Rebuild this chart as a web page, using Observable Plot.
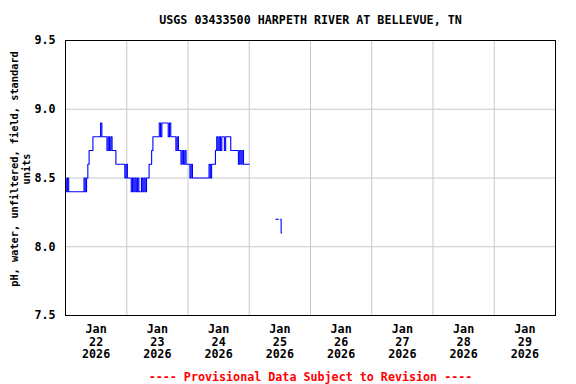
<!DOCTYPE html>
<html><head><meta charset="utf-8">
<script src="https://cdn.jsdelivr.net/npm/d3@7"></script>
<script src="https://cdn.jsdelivr.net/npm/@observablehq/plot@0.6"></script>
<style>body{margin:0;background:#fff} svg{display:block}</style>
</head><body><div id="chart"></div>
<script>
const title = "USGS 03433500 HARPETH RIVER AT BELLEVUE, TN";
const yLabel = "pH, water, unfiltered, field, standard\nunits";
const footer = "---- Provisional Data Subject to Revision ----";
const yTicks = [7.5, 8.0, 8.5, 9.0, 9.5];
const yGrid = [8.0, 8.5, 9.0];
const xDomain = ["2026-01-22T00:00Z", "2026-01-30T00:00Z"];
const gridDays = ["2026-01-23", "2026-01-24", "2026-01-25", "2026-01-26", "2026-01-27", "2026-01-28", "2026-01-29"];
const labelTimes = ["2026-01-22T12:00Z", "2026-01-23T12:00Z", "2026-01-24T12:00Z", "2026-01-25T12:00Z", "2026-01-26T12:00Z", "2026-01-27T12:00Z", "2026-01-28T12:00Z", "2026-01-29T12:00Z"];
const dayLabels = ["Jan\n22\n2026", "Jan\n23\n2026", "Jan\n24\n2026", "Jan\n25\n2026", "Jan\n26\n2026", "Jan\n27\n2026", "Jan\n28\n2026", "Jan\n29\n2026"];

// Segment 1: readings every 30 minutes from Jan 22 00:00
const seg1Start = "2026-01-22T00:00Z";
const seg1StepMinutes = 30;
const seg1Values = [
  8.5, 8.4, 8.5, 8.4,
  8.4, 8.4, 8.4, 8.4, 8.4, 8.4, 8.4, 8.4, 8.4, 8.4, 8.4,
  8.5, 8.4, 8.5, 8.6,
  8.7, 8.7, 8.7,
  8.8, 8.8, 8.8, 8.8, 8.8, 8.8,
  8.9,
  8.8, 8.8, 8.8, 8.8,
  8.7, 8.8, 8.7, 8.8, 8.7, 8.7, 8.7,
  8.6, 8.6, 8.6, 8.6, 8.6, 8.6, 8.6,
  8.5, 8.6, 8.5, 8.5, 8.5, 8.4, 8.5, 8.4, 8.5, 8.4, 8.5, 8.4, 8.4, 8.5, 8.4, 8.5, 8.4, 8.5, 8.5,
  8.6, 8.6, 8.7,
  8.8, 8.8, 8.8, 8.8, 8.8,
  8.9, 8.8,
  8.9, 8.9, 8.9, 8.9, 8.9,
  8.8, 8.9,
  8.8, 8.8, 8.8, 8.8,
  8.7, 8.8, 8.7, 8.7, 8.6, 8.7, 8.6, 8.7, 8.6, 8.6, 8.6, 8.5, 8.6, 8.5,
  8.5, 8.5, 8.5, 8.5, 8.5, 8.5, 8.5, 8.5, 8.5, 8.5, 8.5, 8.5,
  8.6, 8.5, 8.6, 8.6, 8.6, 8.7, 8.8, 8.7, 8.8, 8.7, 8.8, 8.8, 8.7,
  8.8, 8.8, 8.8, 8.8,
  8.7, 8.7, 8.7, 8.7, 8.7, 8.7,
  8.6, 8.7, 8.6, 8.7,
  8.6, 8.6, 8.6, 8.6, 8.6
];
// Segment 2: a few isolated readings on Jan 25
const seg2Times = ["2026-01-25T10:24Z", "2026-01-25T11:30Z", "2026-01-25T12:18Z", "2026-01-25T12:42Z"];
const seg2Values = [8.2, 8.2, 8.2, 8.1];
const seg2Groups = ["b", "b", "c", "c"];

const t0 = Date.parse(seg1Start);
const rows = seg1Values.map((v, i) => ({t: new Date(t0 + i * seg1StepMinutes * 60000), v, g: "a"}))
  .concat(seg2Values.map((v, i) => ({t: new Date(seg2Times[i]), v, g: seg2Groups[i]})));

const labelMap = new Map(labelTimes.map((s, i) => [Date.parse(s), dayLabels[i]]));
const font = "'DejaVu Sans Mono', monospace";

const chart = Plot.plot({
  width: 576, height: 384,
  marginLeft: 65, marginRight: 21, marginTop: 40, marginBottom: 69,
  style: {fontFamily: font, fontWeight: "bold", fontSize: "11.7px", background: "white", color: "black"},
  x: {type: "utc", domain: xDomain.map(s => new Date(s))},
  y: {domain: [7.5, 9.5]},
  marks: [
    Plot.gridX(gridDays.map(s => new Date(s + "T00:00Z")), {stroke: "#c8c8c8", strokeOpacity: 1}),
    Plot.gridY(yGrid, {stroke: "#c8c8c8", strokeOpacity: 1}),
    Plot.axisX(labelTimes.map(s => new Date(s)), {tickSize: 0, tickPadding: 8, lineHeight: 1.1, label: null,
      tickFormat: d => labelMap.get(+d), fontSize: 11.7}),
    Plot.axisY(yTicks, {tickSize: 0, tickPadding: 10, label: null, tickFormat: d3.format(".1f"), fontSize: 11.7}),
    Plot.line(rows, {x: "t", y: "v", z: "g", stroke: "#0000ff", strokeWidth: 1.1, curve: "step"}),
    Plot.frame({stroke: "black"}),
    Plot.text([title], {text: d => d, frameAnchor: "top", lineAnchor: "bottom", dy: -17, fontSize: 11.7, fill: "black"}),
    Plot.text([footer], {text: d => d, frameAnchor: "bottom", lineAnchor: "bottom", dy: 65, fontSize: 11.7, fill: "#ff0000"}),
    Plot.text([yLabel], {text: d => d, frameAnchor: "left", textAnchor: "middle", lineAnchor: "middle", rotate: -90, dx: -45, dy: -9, fontSize: 10.3, lineHeight: 1.15, fill: "black"})
  ]
});
document.getElementById("chart").append(chart);
</script>
</body></html>
